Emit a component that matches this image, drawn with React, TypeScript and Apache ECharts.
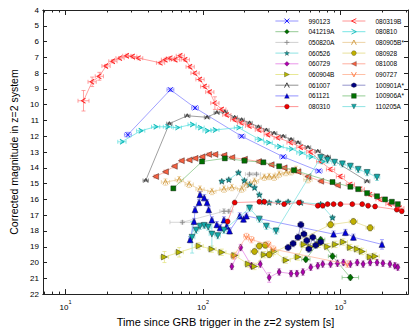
import React, { useEffect, useRef } from "react";
import * as echarts from "echarts";

// rows: [time (s), magnitude, magErr?, timeErrDex?]
type Row = number[];

const S990123: Row[] = [[28.4, 11.9, 0.15], [57.9, 9.05], [87.5, 10.2], [191, 12.0], [383, 13.3], [695, 14.2]];
const S041219A: Row[] = [[560, 19.8], [718, 18.55], [875, 19.6], [1180, 20.95, 0.15, 0.06]];
const S050820A: Row[] = [[70.7, 17.45, 0.1, 0.09], [142, 16.75, 0.15, 0.03], [154, 16.75], [218, 14.4], [245, 14.4]];
const S060526: Row[] = [[137, 14.85], [154, 14.75], [181, 14.3], [200, 14.8], [218, 15.05], [237, 15.25], [257, 15.7], [275, 16.15], [303, 16.2], [352, 16.15], [416, 16.15], [515, 16.2], [718, 16.3], [875, 17.15]];
const S060729: Row[] = [[162, 20.25], [188, 19.05], [225, 20.2], [261, 20.1], [303, 20.95, 0.3], [358, 20.6], [437, 20.7], [482, 20.7], [533, 20.6], [608, 20.3], [684, 20.2], [743, 20.1], [847, 20.1], [951, 20.05], [1051, 20.0], [1180, 20.1], [1324, 20.0], [1462, 20.1], [1644, 20.0], [1845, 20.0], [2037, 20.05], [2291, 20.1], [2489, 20.2], [2614, 20.3]];
const S060904B: Row[] = [[52.4, 19.65, 0.35], [67.1, 19.35, 0.3], [93.6, 18.95], [116, 19.15], [137, 19.35], [170, 19.55], [214, 20.1], [237, 20.25], [279, 19.5], [329, 19.3], [402, 19.85], [491, 19.65], [542, 18.85], [608, 19.0], [695, 18.85], [806, 19.0], [920, 18.85], [1051, 18.7], [1180, 19.05], [1324, 19.15], [1439, 19.3], [1644, 19.65], [1786, 19.6]];
const S061007: Row[] = [[38.3, 14.8], [56.9, 11.2], [76.8, 10.7], [107, 10.8], [126, 10.5], [144, 10.45], [170, 10.8], [191, 10.95], [218, 11.15], [253, 11.4], [289, 11.6], [329, 11.8], [383, 12.0], [437, 12.2], [491, 12.4], [580, 12.7], [684, 12.95], [806, 13.3], [1563, 14.85]];
const S061121: Row[] = [[80.6, 18.55], [86.1, 17.4], [87.5, 16.65], [93.6, 16.2], [95.1, 15.7], [102, 15.9], [107, 16.2], [110, 16.65], [116, 17.3], [126, 17.6], [133, 17.8], [142, 17.3], [149, 17.7], [156, 18.0], [185, 17.05], [197, 17.25], [207, 17.05], [891, 18.2], [1086, 18.1], [1242, 18.4], [2004, 18.85, 0.3]];
const S080310: Row[] = [[151, 17.4], [170, 16.2], [257, 16.15], [279, 16.15], [389, 16.3], [499, 16.2], [684, 16.4], [743, 16.4], [806, 16.3], [891, 16.3], [1000, 16.3], [1219, 16.3], [1439, 16.3], [1589, 16.4], [1786, 16.45], [2570, 16.65], [2793, 16.75]];
const S080319B: Row[] = [[13.5, 9.75, 0.65, 0.04], [15.6, 8.55, 0.3], [17.6, 8.2, 0.25], [19.7, 7.55], [22.1, 7.25], [24.9, 7.05], [27.9, 6.9], [30.8, 6.95], [34.0, 7.05], [49.1, 7.35], [53.3, 7.15], [57.9, 7.05], [63.0, 7.15], [68.4, 6.9], [74.3, 7.15], [80.6, 7.6], [87.5, 8.0], [95.1, 8.4], [103, 8.85], [112, 9.2], [122, 9.9, 0.4], [137, 10.3], [149, 10.65], [170, 10.95], [191, 11.15], [218, 11.35], [257, 11.6], [298, 11.9], [352, 12.1], [437, 12.4], [515, 12.7], [608, 13.0], [718, 13.6], [847, 14.1], [1000, 14.55], [1180, 15.05], [1393, 15.35], [1644, 15.7], [1941, 16.0], [2291, 16.3], [2704, 16.55]];
const S080810: Row[] = [[25.7, 12.35], [35.2, 11.65], [45.2, 11.4], [55.1, 11.4], [65.0, 11.45], [83.3, 11.25], [95.1, 11.45], [107, 11.65], [122, 11.6], [181, 11.45], [257, 12.2], [298, 12.4], [358, 12.65], [437, 12.8], [515, 13.05], [608, 13.3], [743, 13.6]];
const S080905B: Row[] = [[53.3, 14.9], [67.1, 14.75], [79.3, 15.05], [95.1, 15.35], [116, 15.5], [142, 15.35], [162, 15.25], [191, 15.35], [207, 15.05], [237, 14.85], [279, 14.6], [303, 14.55], [329, 14.6], [358, 14.4], [402, 14.3], [437, 14.25], [474, 14.1], [580, 14.75]];
const S080928: Row[] = [[237, 19.3], [257, 18.95], [284, 18.9], [303, 19.5], [847, 17.6], [1242, 17.4], [1644, 17.8]];
const S081008: Row[] = [[45.2, 14.55], [53.3, 14.25], [61.8, 13.9], [69.5, 13.55], [79.3, 13.5], [87.5, 13.4], [98.4, 13.3], [110, 13.15], [122, 13.15], [142, 13.2], [162, 13.35], [200, 13.45], [253, 13.6], [313, 13.8], [389, 14.0], [491, 14.25], [580, 14.55], [718, 14.85], [951, 15.1]];
const S090727: Row[] = [[167, 19.6], [207, 18.35], [225, 18.55], [298, 18.85], [324, 19.15], [1122, 20.1]];
const S100901A: Row[] = [[416, 19.05], [452, 18.8], [491, 18.4], [515, 17.6], [542, 18.2], [569, 18.6], [589, 19.15], [629, 18.4], [661, 18.9], [718, 18.7]];
const S100906A: Row[] = [[60.8, 15.3], [98.4, 13.6], [144, 13.4], [200, 13.55], [275, 13.65], [358, 13.9], [459, 14.15], [875, 14.9], [1180, 15.2], [1346, 15.35], [1563, 15.6], [1845, 15.8], [2109, 16.0], [2366, 16.15], [2614, 16.3]];
const S110205A: Row[] = [[83.3, 18.4, 1.0], [89.1, 17.95], [95.1, 17.7], [102, 17.65], [109, 17.75], [116, 18.2, 0.9], [128, 18.3], [142, 17.95], [218, 16.55], [257, 17.25], [289, 17.7], [340, 18.0], [718, 13.35], [806, 13.5], [906, 13.65], [1033, 13.75], [1180, 13.9], [1346, 14.1], [1563, 14.3], [1845, 14.6]];

const X_EXPONENTS = [1, 2, 3];
const X_MINOR_MULT = [2, 3, 4, 5, 6, 7, 8, 9];
const X_DECADES = [0, 1, 2, 3];
const X_MIN_T = 6.85;
const X_MAX_T = 3100;
const Y_MIN = 4;
const Y_MAX = 22;

const FONT = "Liberation Sans";

const SYM = {
  cross: "path://M0,0L10,10M10,0L0,10",
  plus: "path://M5,0L5,10M0,5L10,5",
  star: "path://M5,0L6.2,3.6L10,3.6L7,5.9L8.1,9.5L5,7.3L1.9,9.5L3,5.9L0,3.6L3.8,3.6Z",
  triR: "path://M0,0L10,5L0,10Z",
  triL: "path://M10,0L0,5L10,10Z",
  triD: "path://M0,0L10,0L5,10Z",
  caretUp: "path://M0,10L5,0L10,10",
  caretDown: "path://M0,0L5,10L10,0",
  caretL: "path://M10,0L0,5L10,10",
  caretR: "path://M0,0L10,5L0,10",
  hex: "path://M5,0L9.33,2.5L9.33,7.5L5,10L0.67,7.5L0.67,2.5Z",
};

type Cfg = {
  name: string; data: Row[]; symbol: string; size: number | number[];
  marker: string; line: string; filled: boolean; xe: number; ye: number;
};

const SERIES: Cfg[] = [
  { name: "990123", data: S990123, symbol: SYM.cross, size: 5, marker: "#0000ff", line: "#7878ff", filled: false, xe: 0.025, ye: 0.1 },
  { name: "041219A", data: S041219A, symbol: "diamond", size: [6, 7], marker: "#007000", line: "#78bc78", filled: true, xe: 0.03, ye: 0.15 },
  { name: "050820A", data: S050820A, symbol: SYM.plus, size: 5, marker: "#8a8a8a", line: "#c4c4c4", filled: false, xe: 0.03, ye: 0.1 },
  { name: "060526", data: S060526, symbol: SYM.star, size: 6, marker: "#159a9a", line: "#72dcdc", filled: true, xe: 0.015, ye: 0.1 },
  { name: "060729", data: S060729, symbol: "diamond", size: [4, 7], marker: "#b000b0", line: "#e37ae3", filled: true, xe: 0.01, ye: 0.2 },
  { name: "060904B", data: S060904B, symbol: SYM.triR, size: 6, marker: "#b5b500", line: "#e2e27a", filled: true, xe: 0.03, ye: 0.2 },
  { name: "061007", data: S061007, symbol: SYM.caretUp, size: 4, marker: "#303030", line: "#767676", filled: false, xe: 0.02, ye: 0.05 },
  { name: "061121", data: S061121, symbol: "triangle", size: 6, marker: "#0000dd", line: "#7878ff", filled: true, xe: 0.01, ye: 0.2 },
  { name: "080310", data: S080310, symbol: "circle", size: 5, marker: "#ee0000", line: "#ff7878", filled: true, xe: 0.01, ye: 0.1 },
  { name: "080319B", data: S080319B, symbol: SYM.caretL, size: [4, 5], marker: "#ff2020", line: "#ff7878", filled: false, xe: 0.03, ye: 0.1 },
  { name: "080810", data: S080810, symbol: SYM.caretR, size: [4, 5], marker: "#10b8b8", line: "#56dede", filled: false, xe: 0.03, ye: 0.05 },
  { name: "080905B*", data: S080905B, symbol: SYM.caretUp, size: 5, marker: "#d09a40", line: "#e8c890", filled: false, xe: 0.03, ye: 0.2 },
  { name: "080928", data: S080928, symbol: "circle", size: 6, marker: "#c0b000", line: "#e2da84", filled: true, xe: 0.03, ye: 0.2 },
  { name: "081008", data: S081008, symbol: SYM.triL, size: 6, marker: "#f86040", line: "#ff9a88", filled: true, xe: 0.01, ye: 0.1 },
  { name: "090727", data: S090727, symbol: SYM.caretDown, size: 5, marker: "#ff7a40", line: "#ffb090", filled: false, xe: 0.02, ye: 0.2 },
  { name: "100901A*", data: S100901A, symbol: SYM.hex, size: 6, marker: "#000080", line: "#7878c0", filled: true, xe: 0.01, ye: 0.2 },
  { name: "100906A*", data: S100906A, symbol: "rect", size: 5, marker: "#007000", line: "#78c078", filled: true, xe: 0.01, ye: 0.1 },
  { name: "110205A", data: S110205A, symbol: SYM.triD, size: 6, marker: "#10a8a8", line: "#72dcdc", filled: true, xe: 0.02, ye: 0.2 },
];

const legendItem = (c: Cfg) => ({
  name: c.name,
  itemStyle: c.filled
    ? { color: c.marker, borderColor: "#222", borderWidth: 0.3 }
    : { color: "rgba(0,0,0,0)", borderColor: c.marker, borderWidth: 0.9 },
  lineStyle: { color: c.line, width: 0.8 },
});
const LEGEND_LEFT = SERIES.slice(0, 9).map(legendItem);
const LEGEND_RIGHT = SERIES.slice(9).map(legendItem);

function errRender(color: string) {
  return (_p: any, api: any) => {
    const x = api.value(0), y = api.value(1), ye = api.value(2), xe = api.value(3);
    const st = { stroke: color, lineWidth: 0.7, fill: "none" };
    const l = api.coord([x - xe, y]), r = api.coord([x + xe, y]);
    const t = api.coord([x, y - ye]), b = api.coord([x, y + ye]);
    const cap = 2;
    const ch: any[] = [];
    if (xe > 0) {
      ch.push({ type: "line", shape: { x1: l[0], y1: l[1], x2: r[0], y2: r[1] }, style: st });
      ch.push({ type: "line", shape: { x1: l[0], y1: l[1] - cap, x2: l[0], y2: l[1] + cap }, style: st });
      ch.push({ type: "line", shape: { x1: r[0], y1: r[1] - cap, x2: r[0], y2: r[1] + cap }, style: st });
    }
    if (ye > 0) {
      ch.push({ type: "line", shape: { x1: t[0], y1: t[1], x2: b[0], y2: b[1] }, style: st });
      ch.push({ type: "line", shape: { x1: t[0] - cap, y1: t[1], x2: t[0] + cap, y2: t[1] }, style: st });
      ch.push({ type: "line", shape: { x1: b[0] - cap, y1: b[1], x2: b[0] + cap, y2: b[1] }, style: st });
    }
    return { type: "group", children: ch };
  };
}

export default function App() {
  const ref = useRef<HTMLDivElement>(null);
  useEffect(() => {
    if (!ref.current) return;
    const chart = echarts.init(ref.current, undefined, { renderer: "svg" });
    const xMin = Math.log10(X_MIN_T), xMax = Math.log10(X_MAX_T);
    const minors: number[] = [];
    X_DECADES.forEach((d) => X_MINOR_MULT.forEach((m) => {
      const v = Math.log10(m * Math.pow(10, d));
      if (v > xMin && v < xMax) minors.push(v);
    }));
    const yTicks: number[] = [];
    for (let v = Y_MIN; v <= Y_MAX; v++) yTicks.push(v);

    const axisLine = { show: true, lineStyle: { color: "#222", width: 1 } };
    const baseX = { type: "value", min: xMin, max: xMax, splitLine: { show: false }, axisLine };
    const xAxes: any[] = [
      { ...baseX, position: "bottom", axisTick: { inside: true, length: 5, customValues: X_EXPONENTS, lineStyle: { color: "#222" } },
        axisLabel: { customValues: X_EXPONENTS, margin: 5, formatter: (v: number) => `{b|10}{s|${Math.round(v)}}`,
          rich: { b: { fontSize: 8, fontFamily: FONT, color: "#000", lineHeight: 12, verticalAlign: "bottom" }, s: { fontSize: 5.5, fontFamily: FONT, color: "#000", lineHeight: 12, verticalAlign: "top", padding: [0, 0, 0, 0] } } },
        name: "Time since GRB trigger in the z=2 system [s]", nameLocation: "middle", nameGap: 19,
        nameTextStyle: { fontSize: 11, fontFamily: FONT, color: "#000" } },
      { ...baseX, position: "bottom", axisTick: { inside: true, length: 2.5, customValues: minors, lineStyle: { color: "#222" } }, axisLabel: { show: false } },
      { ...baseX, position: "top", axisTick: { inside: true, length: 5, customValues: X_EXPONENTS, lineStyle: { color: "#222" } }, axisLabel: { show: false } },
      { ...baseX, position: "top", axisTick: { inside: true, length: 2.5, customValues: minors, lineStyle: { color: "#222" } }, axisLabel: { show: false } },
    ];
    const baseY = { type: "value", min: Y_MIN, max: Y_MAX, inverse: true, splitLine: { show: false }, axisLine };
    const yAxes: any[] = [
      { ...baseY, position: "left", axisTick: { inside: true, length: 4, customValues: yTicks, lineStyle: { color: "#222" } },
        axisLabel: { customValues: yTicks, fontSize: 8, fontFamily: FONT, color: "#000", margin: 4 },
        name: "Corrected magnitude in z=2 system", nameLocation: "middle", nameGap: 24,
        nameTextStyle: { fontSize: 10.5, fontFamily: FONT, color: "#000" } },
      { ...baseY, position: "right", axisTick: { inside: true, length: 4, customValues: yTicks, lineStyle: { color: "#222" } }, axisLabel: { show: false } },
    ];

    const series: any[] = [];
    SERIES.forEach((c, i) => {
      series.push({
        type: "custom", name: c.name + " err", xAxisIndex: 0, yAxisIndex: 0, silent: true, z: 2,
        renderItem: errRender(c.line), clip: true,
        encode: { x: 0, y: 1 },
        data: c.data.map((r) => [Math.log10(r[0]), r[1], r[2] ?? c.ye, r[3] ?? c.xe]),
      });
      series.push({
        type: "line", name: c.name, xAxisIndex: 0, yAxisIndex: 0, z: 3 + i * 0.01,
        data: c.data.map((r) => [Math.log10(r[0]), r[1]]),
        symbol: c.symbol, symbolSize: c.size, showSymbol: true, showAllSymbol: true,
        color: c.marker,
        lineStyle: { color: c.line, width: 0.7 },
        itemStyle: c.filled
          ? { color: c.marker, borderColor: "#111", borderWidth: 0.4 }
          : { color: "rgba(0,0,0,0)", borderColor: c.marker, borderWidth: 0.9 },
        emphasis: { disabled: true },
        clip: true,
      });
    });

    const legendBase = {
      orient: "vertical", top: 16.5, itemWidth: 23, itemHeight: 6, itemGap: 1.7, selectedMode: false,
      textStyle: { fontSize: 6.5, fontFamily: FONT, color: "#000", lineHeight: 9, padding: [0, 0, 0, 5] },
      padding: 0,
    };
    chart.setOption({
      animation: false,
      backgroundColor: "#fff",
      grid: { left: 39, right: 7, top: 10, bottom: 37, containLabel: false },
      xAxis: xAxes,
      yAxis: yAxes,
      legend: [
        { ...legendBase, left: 275, data: LEGEND_LEFT },
        { ...legendBase, left: 342, data: LEGEND_RIGHT },
      ],
      series,
    });
    return () => chart.dispose();
  }, []);
  return <div ref={ref} style={{ position: "fixed", left: 0, top: 0, width: 415, height: 332 }} />;
}
